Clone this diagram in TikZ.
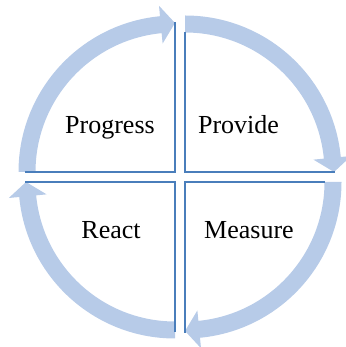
\documentclass[tikz,border=0pt]{standalone}
\usepackage{fontspec}
\setmainfont{Liberation Serif}
\usetikzlibrary{calc}
\definecolor{bandblue}{RGB}{183,203,232}
\definecolor{edgeblue}{RGB}{74,126,187}
\tikzset{
  band/.style={fill=bandblue, draw=none},
  edge/.style={draw=edgeblue, line width=2.4pt},
  label/.style={font=\fontsize{26}{30}\selectfont, anchor=base, inner sep=0pt},
}
% clockwise curved arrow: #1 centre, #2 start angle, #3 tip angle
\newcommand{\cyclearrow}[3]{%
  \pgfmathsetmacro{\hb}{#3+5.5}%
  \fill[band]
    ($(#1)+(#2:156.5pt)$) arc[start angle=#2, end angle=\hb, radius=156.5pt]
    -- ($(#1)+(\hb:167pt)$)
    -- ($(#1)+(#3:149pt)$)
    -- ($(#1)+(\hb:129pt)$)
    -- ($(#1)+(\hb:139.5pt)$)
    arc[start angle=\hb, end angle=#2, radius=139.5pt]
    -- cycle;%
}
\begin{document}
\begin{tikzpicture}[x=1pt, y=1pt]
  \useasboundingbox (0,0) rectangle (345,347);
  % inner corners of the four quarters
  \coordinate (tl) at (175,175);
  \coordinate (tr) at (185,175);
  \coordinate (br) at (185,165);
  \coordinate (bl) at (175,165);

  % outer arrows, running clockwise
  \cyclearrow{tl}{180}{90}
  \cyclearrow{tr}{90}{0}
  \cyclearrow{br}{0}{-90}
  \cyclearrow{bl}{270}{180}

  % straight edges of the quarters
  \coordinate (tlu) at ($(tl)+(0,150)$);
  \coordinate (tll) at ($(tl)+(-150,0)$);
  \coordinate (tru) at ($(tr)+(0,140)$);
  \coordinate (trr) at ($(tr)+(150,0)$);
  \coordinate (brr) at ($(br)+(140,0)$);
  \coordinate (brd) at ($(br)+(0,-151)$);
  \coordinate (bld) at ($(bl)+(0,-150)$);
  \coordinate (bll) at ($(bl)+(-150,0)$);
  \draw[edge] (tll) -- (tl) -- (tlu);
  \draw[edge] (tru) -- (tr) -- (trr);
  \draw[edge] (brr) -- (br) -- (brd);
  \draw[edge] (bld) -- (bl) -- (bll);

  % quarter labels
  \node[label] (progress) at (110,213) {Progress};
  \node[label] (provide)  at (238.5,213) {Provide};
  \node[label] (react)    at (111,108) {React};
  \node[label] (measure)  at (249,108) {Measure};
\end{tikzpicture}
\end{document}
